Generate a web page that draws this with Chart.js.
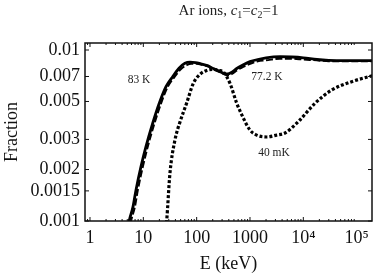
<!DOCTYPE html>
<html>
<head>
<meta charset="utf-8">
<script src="https://cdn.jsdelivr.net/npm/chart.js@4"></script>
<style>
  html, body { margin: 0; padding: 0; background: #fff; }
  #wrap { width: 377px; height: 278px; }
</style>
</head>
<body>
<div id="wrap"><canvas id="c" width="377" height="278"></canvas></div>
<script>
// ---- data ----
const energy83   = [5.0, 5.39, 6.4, 7.29, 9.04, 11.2, 15.0, 19.9, 26.6, 35.5, 46.7, 60.3, 75, 95, 120, 160, 205, 270, 330, 380, 450, 565, 750, 1000, 1400, 2000, 3650, 6000, 10000, 18000, 30000, 60000, 100000, 200000];
const fraction83 = [0.00085, 0.00099, 0.00121, 0.00152, 0.00208, 0.00272, 0.00373, 0.00488, 0.0061, 0.00698, 0.00782, 0.00836, 0.0085, 0.00845, 0.0083, 0.0081, 0.0078, 0.0075, 0.00728, 0.00725, 0.0074, 0.0078, 0.0082, 0.00855, 0.0088, 0.0090, 0.00914, 0.0091, 0.0090, 0.0088, 0.0087, 0.00866, 0.00866, 0.00866];

const energy77   = [5.4, 5.85, 6.95, 7.9, 9.8, 12.1, 16.2, 21.5, 28.7, 38.3, 50.4, 65, 80, 100, 125, 165, 210, 275, 335, 390, 460, 570, 760, 1000, 1400, 2000, 3650, 6000, 10000, 18000, 30000, 60000, 100000, 200000];
const fraction77 = [0.00085, 0.00099, 0.00121, 0.00152, 0.00208, 0.00272, 0.00373, 0.00488, 0.0061, 0.00695, 0.00772, 0.00815, 0.0083, 0.0083, 0.0082, 0.0080, 0.0077, 0.0074, 0.0072, 0.0071, 0.00725, 0.0076, 0.0080, 0.0083, 0.0086, 0.0087, 0.0089, 0.0089, 0.0088, 0.0087, 0.0086, 0.0086, 0.0086, 0.0086];

const energy40mK   = [26.0, 27.4, 31.6, 39.2, 48.7, 65, 86.5, 115, 154, 205, 260, 320, 422, 562, 750, 1000, 1336, 2057, 3160, 4530, 8050, 16550, 34000, 80700, 200000];
const fraction40mK = [0.00085, 0.001, 0.00191, 0.00298, 0.00379, 0.0049, 0.00638, 0.0072, 0.0076, 0.0077, 0.0076, 0.0074, 0.00638, 0.0049, 0.0040, 0.0034, 0.00318, 0.0031, 0.00318, 0.00327, 0.00381, 0.00488, 0.00583, 0.00653, 0.00708];

const xTickValues = [1, 10, 100, 1000, 10000, 100000];
const xTickLabels = ['1', '10', '100', '1000', '10\u2074', '10\u2075'];
const yTickValues = [0.001, 0.0015, 0.002, 0.003, 0.005, 0.007, 0.01];
const yTickLabels = ['0.001', '0.0015', '0.002', '0.003', '0.005', '0.007', '0.01'];

const curveLabels = [
  { text: '83 K',   e: 8.3,  f: 0.00668 },
  { text: '77.2 K', e: 2084, f: 0.00695 },
  { text: '40 mK',  e: 2820, f: 0.0025 }
];

const serif = "'Liberation Serif', 'DejaVu Serif', serif";

function pts(xs, ys) { return xs.map((x, i) => ({ x: x, y: ys[i] })); }

const framePlugin = {
  id: 'frame',
  afterDraw(chart) {
    const ctx = chart.ctx, a = chart.chartArea;
    const xs = chart.scales.x, ys = chart.scales.y;
    ctx.save();
    ctx.strokeStyle = '#111';
    ctx.lineWidth = 1.5;
    ctx.strokeRect(a.left, a.top, a.right - a.left, a.bottom - a.top);
    ctx.lineWidth = 1;
    for (let d = 0; d <= 5; d++) {
      for (let m = 1; m <= 9; m++) {
        const v = m * Math.pow(10, d - 1);
        const px = xs.getPixelForValue(v);
        if (px < a.left + 0.5 || px > a.right - 0.5) continue;
        const major = xTickValues.includes(v);
        const len = major ? 4 : 2;
        ctx.beginPath();
        ctx.moveTo(px, a.bottom); ctx.lineTo(px, a.bottom - len);
        ctx.moveTo(px, a.top); ctx.lineTo(px, a.top + len);
        ctx.stroke();
      }
    }
    yTickValues.forEach(v => {
      const py = ys.getPixelForValue(v);
      ctx.beginPath();
      ctx.moveTo(a.left, py); ctx.lineTo(a.left + 4, py);
      ctx.moveTo(a.right, py); ctx.lineTo(a.right - 4, py);
      ctx.stroke();
    });
    ctx.fillStyle = '#222';
    ctx.font = '11.5px ' + serif;
    ctx.textAlign = 'center';
    ctx.textBaseline = 'middle';
    curveLabels.forEach(l => {
      ctx.fillText(l.text, xs.getPixelForValue(l.e), ys.getPixelForValue(l.f));
    });
    const runs = [
      { t: 'Ar ions, ', f: '15px ' + serif, dy: 0 },
      { t: 'c', f: 'italic 15px ' + serif, dy: 0 },
      { t: '1', f: '10px ' + serif, dy: 3 },
      { t: '=', f: '15px ' + serif, dy: 0 },
      { t: 'c', f: 'italic 15px ' + serif, dy: 0 },
      { t: '2', f: '10px ' + serif, dy: 3 },
      { t: '=1', f: '15px ' + serif, dy: 0 }
    ];
    let total = 0;
    runs.forEach(r => { ctx.font = r.f; r.w = ctx.measureText(r.t).width; total += r.w; });
    let x = 228.5 - total / 2;
    ctx.textAlign = 'left';
    ctx.textBaseline = 'alphabetic';
    runs.forEach(r => { ctx.font = r.f; ctx.fillText(r.t, x, 15 + r.dy); x += r.w; });
    ctx.restore();
  }
};

new Chart(document.getElementById('c'), {
  type: 'line',
  data: {
    datasets: [
      { label: '83 K', data: pts(energy83, fraction83), borderColor: '#000', borderWidth: 2.8, pointRadius: 0, cubicInterpolationMode: 'monotone', fill: false },
      { label: '77.2 K', data: pts(energy77, fraction77), borderColor: '#000', borderWidth: 2, borderDash: [7, 2.5], pointRadius: 0, cubicInterpolationMode: 'monotone', fill: false },
      { label: '40 mK', data: pts(energy40mK, fraction40mK), borderColor: '#000', borderWidth: 3.2, borderDash: [3, 2], pointRadius: 0, cubicInterpolationMode: 'monotone', fill: false }
    ]
  },
  options: {
    responsive: false,
    animation: false,
    devicePixelRatio: 1,
    layout: { padding: { top: 43, right: 5, left: 0, bottom: 0 } },
    plugins: { legend: { display: false }, title: { display: false }, tooltip: { enabled: false } },
    scales: {
      x: {
        type: 'logarithmic',
        min: 0.806, max: 194000,
        grid: { display: false, drawTicks: false },
        border: { display: false },
        afterFit: s => { s.height = 57; },
        afterBuildTicks: s => { s.ticks = xTickValues.map(v => ({ value: v })); },
        ticks: {
          autoSkip: false, maxRotation: 0, padding: 6, color: '#111',
          font: { family: serif, size: 18 },
          callback: v => { const i = xTickValues.indexOf(v); return i >= 0 ? xTickLabels[i] : ''; }
        },
        title: { display: true, text: 'E (keV)', color: '#111', font: { family: serif, size: 18 }, padding: { top: 0, bottom: 3 } }
      },
      y: {
        type: 'logarithmic',
        min: 0.001, max: 0.01099,
        grid: { display: false, drawTicks: false },
        border: { display: false },
        afterFit: s => { s.width = 85; },
        afterBuildTicks: s => { s.ticks = yTickValues.map(v => ({ value: v })); },
        ticks: {
          autoSkip: false, padding: 5, color: '#111',
          font: { family: serif, size: 18 },
          callback: v => { const i = yTickValues.indexOf(v); return i >= 0 ? yTickLabels[i] : ''; }
        },
        title: { display: true, text: 'Fraction', color: '#111', font: { family: serif, size: 18 }, padding: { top: 1, bottom: 0 } }
      }
    }
  },
  plugins: [framePlugin]
});
</script>
</body>
</html>
